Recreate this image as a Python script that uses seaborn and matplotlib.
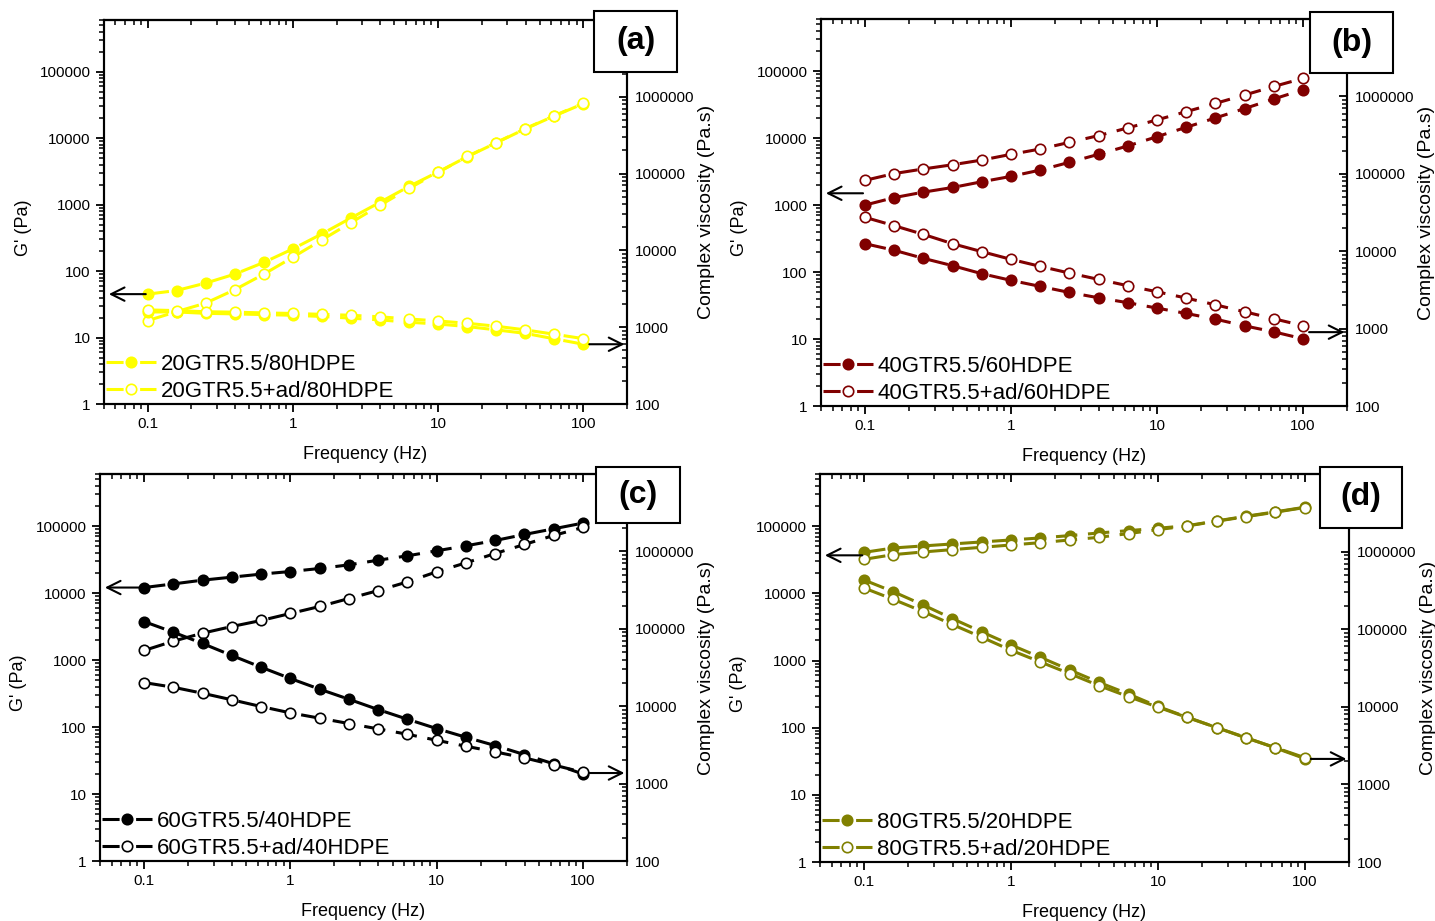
import numpy as np
import pandas as pd
import seaborn as sns
import matplotlib.pyplot as plt
from matplotlib.lines import Line2D
from matplotlib.patches import Rectangle
from matplotlib.ticker import FixedLocator, LogLocator, NullFormatter, FuncFormatter

sns.set_theme(style='ticks', rc={'text.color': 'black', 'axes.labelcolor': 'black',
                                 'xtick.color': 'black', 'ytick.color': 'black',
                                 'axes.edgecolor': 'black'})
plt.rcParams['font.family'] = ['Liberation Sans', 'DejaVu Sans']

# frequency sweep (Hz), 5 points per decade
freq = [0.1, 0.158, 0.251, 0.398, 0.631, 1.0, 1.585, 2.512, 3.981, 6.31,
        10.0, 15.85, 25.12, 39.81, 63.1, 100.0]

# (a) 20GTR / 80HDPE
a_labels = ['20GTR5.5/80HDPE', '20GTR5.5+ad/80HDPE']
a_g_filled = [45, 51, 66, 90, 135, 216, 363, 630, 1085, 1880, 3100, 5250, 8500, 13800, 21600, 33000]
a_g_open = [18, 24.5, 33, 52.5, 90, 162, 295, 537, 977, 1760, 3050, 5300, 8600, 13900, 21800, 33500]
a_eta_filled = [1580, 1580, 1515, 1490, 1460, 1430, 1380, 1310, 1245, 1160, 1100, 1020, 923, 832, 706, 600]
a_eta_open = [1680, 1645, 1590, 1570, 1535, 1510, 1470, 1430, 1365, 1280, 1205, 1125, 1030, 923, 810, 710]

# (b) 40GTR / 60HDPE
b_labels = ['40GTR5.5/60HDPE', '40GTR5.5+ad/60HDPE']
b_g_filled = [1000, 1290, 1560, 1830, 2230, 2680, 3330, 4350, 5730, 7640, 10500, 14500, 20000, 27600, 38400, 52800]
b_g_open = [2340, 2950, 3460, 4000, 4700, 5720, 6870, 8640, 10900, 14200, 18700, 24800, 33000, 44000, 59000, 78000]
b_eta_filled = [12500, 10300, 8090, 6500, 5120, 4200, 3510, 2930, 2500, 2160, 1840, 1570, 1325, 1085, 908, 738]
b_eta_open = [27400, 21400, 16500, 12500, 9870, 7850, 6370, 5220, 4320, 3580, 2990, 2480, 2030, 1650, 1340, 1090]

# (c) 60GTR / 40HDPE
c_labels = ['60GTR5.5/40HDPE', '60GTR5.5+ad/40HDPE']
c_g_filled = [12100, 13700, 15600, 17300, 19200, 21000, 23300, 26400, 31000, 36000, 42800, 50800, 61000, 75000, 91200, 111000]
c_g_open = [1390, 1910, 2520, 3170, 3900, 4960, 6310, 8300, 10900, 14700, 20800, 28300, 39000, 53200, 72600, 95500]
c_eta_filled = [124000, 90600, 64600, 45200, 31900, 22800, 16600, 12300, 9050, 6790, 5140, 3970, 3100, 2370, 1800, 1330]
c_eta_open = [20200, 17600, 14700, 12100, 9900, 8200, 7000, 5970, 5090, 4340, 3630, 3040, 2570, 2150, 1740, 1400]

# (d) 80GTR / 20HDPE
d_labels = ['80GTR5.5/20HDPE', '80GTR5.5+ad/20HDPE']
d_g_filled = [40900, 47500, 50900, 54500, 58400, 62500, 67000, 72600, 79500, 86100, 93300, 102000, 120000, 141000, 164000, 192000]
d_g_open = [32200, 37800, 41400, 44900, 48600, 52600, 57000, 62500, 68500, 77800, 89200, 101000, 119000, 139000, 162000, 190000]
d_eta_filled = [430000, 304000, 206000, 137000, 92400, 62700, 43400, 29800, 20600, 14600, 10100, 7350, 5400, 4010, 2950, 2150]
d_eta_open = [339000, 242000, 169000, 115000, 78800, 53500, 37800, 26700, 18700, 13500, 9900, 7280, 5400, 3970, 2980, 2210]

# arrow heights (left arrow -> G', right arrow -> viscosity)
arrow_g = [45, 1500, 12100, 36900]
arrow_eta = [600, 900, 1370, 2130]

tags = ['(a)', '(b)', '(c)', '(d)']
colors = ['#ffff00', '#800000', '#000000', '#808000']

panels = [
    (a_labels, a_g_filled, a_g_open, a_eta_filled, a_eta_open),
    (b_labels, b_g_filled, b_g_open, b_eta_filled, b_eta_open),
    (c_labels, c_g_filled, c_g_open, c_eta_filled, c_eta_open),
    (d_labels, d_g_filled, d_g_open, d_eta_filled, d_eta_open),
]

W, H = 1435, 921
fig = plt.figure(figsize=(W / 100, H / 100), dpi=100)


def px_rect(l, t, r, b):
    return [l / W, 1 - b / H, (r - l) / W, (b - t) / H]


ax_boxes = [(104, 20, 627, 404), (821, 19, 1347, 406), (100, 474, 627, 861), (820, 474, 1349, 862)]
tag_boxes = [(594, 11, 677, 72), (1310, 12, 1393, 73), (596, 467, 680, 523), (1320, 467, 1402, 528)]

dash = (0, (7, 3.5))
legend_dash = (0, (5.6, 5.4))
int_fmt = FuncFormatter(lambda v, p: f'{v:.0f}')
x_fmt = FuncFormatter(lambda v, p: f'{v:g}')
minor_loc = lambda: LogLocator(base=10, subs=np.arange(2, 10), numticks=100)

for i, (labels, g_f, g_o, eta_f, eta_o) in enumerate(panels):
    col = colors[i]
    ax = fig.add_axes(px_rect(*ax_boxes[i]))
    ax2 = ax.twinx()

    common = dict(x=freq, color=col, marker='o', markersize=7.5, linewidth=2.2,
                  linestyle=dash, markeredgecolor=col, markeredgewidth=1.2, legend=False)
    sns.lineplot(y=g_f, ax=ax, markerfacecolor=col, **common)
    sns.lineplot(y=g_o, ax=ax, markerfacecolor='white', **common)
    sns.lineplot(y=eta_f, ax=ax2, markerfacecolor=col, **common)
    sns.lineplot(y=eta_o, ax=ax2, markerfacecolor='white', **common)

    for a in (ax, ax2):
        a.set_xscale('log')
        a.set_yscale('log')
        a.set_xlim(0.05, 200)
        for s in a.spines.values():
            s.set_linewidth(1.5)
    ax.set_ylim(1, 6e5)
    ax2.set_ylim(100, 1e7)

    ax.xaxis.set_major_locator(FixedLocator([0.1, 1, 10, 100]))
    ax.xaxis.set_minor_locator(minor_loc())
    ax.xaxis.set_major_formatter(x_fmt)
    ax.xaxis.set_minor_formatter(NullFormatter())
    ax.yaxis.set_major_locator(FixedLocator([1, 10, 100, 1000, 10000, 100000]))
    ax.yaxis.set_minor_locator(minor_loc())
    ax.yaxis.set_major_formatter(int_fmt)
    ax.yaxis.set_minor_formatter(NullFormatter())
    ax2.yaxis.set_major_locator(FixedLocator([100, 1000, 10000, 100000, 1000000]))
    ax2.yaxis.set_minor_locator(minor_loc())
    ax2.yaxis.set_major_formatter(int_fmt)
    ax2.yaxis.set_minor_formatter(NullFormatter())

    ax.tick_params(axis='both', which='major', direction='out', length=6, width=1.3,
                   labelsize=11, right=False)
    ax.tick_params(axis='both', which='minor', direction='out', length=3.5, width=1.1, right=False)
    ax2.tick_params(axis='y', which='major', direction='in', length=6, width=1.3,
                    labelsize=11, pad=6)
    ax2.tick_params(axis='y', which='minor', direction='in', length=3.5, width=1.1)

    top = ax.secondary_xaxis('top')
    top.xaxis.set_major_locator(FixedLocator([0.1, 1, 10, 100]))
    top.xaxis.set_minor_locator(minor_loc())
    top.xaxis.set_major_formatter(NullFormatter())
    top.xaxis.set_minor_formatter(NullFormatter())
    top.tick_params(which='major', direction='in', length=6, width=1.3)
    top.tick_params(which='minor', direction='in', length=3.5, width=1.1)
    top.spines['top'].set_linewidth(1.5)

    ax.set_xlabel('Frequency (Hz)', fontsize=13, labelpad=11)
    ax.set_ylabel("G' (Pa)", fontsize=13)
    ax.yaxis.set_label_coords(-0.138, 0.46)
    ax2.set_ylabel('Complex viscosity (Pa.s)', fontsize=14, labelpad=2)

    # legend keys: dashed line with the marker sitting in the gap
    handles = [Line2D([], [], color=col, lw=2.2, linestyle=legend_dash, marker='o',
                      markersize=7.5, markeredgecolor=col, markeredgewidth=1.2,
                      markerfacecolor=fc) for fc in (col, 'white')]
    ax.legend(handles=handles, labels=labels, loc='lower left',
              bbox_to_anchor=(0, 0), frameon=False, fontsize=16,
              handlelength=2.25, handletextpad=0.2, labelspacing=0.25,
              borderaxespad=0.0, borderpad=0.1)

    arrow_kw = dict(arrowstyle='->', color='black', lw=1.5, mutation_scale=24,
                    shrinkA=0, shrinkB=0)
    ax.annotate('', xy=(0.054, arrow_g[i]), xytext=(0.097, arrow_g[i]),
                arrowprops=arrow_kw, annotation_clip=False)
    ax2.annotate('', xy=(192, arrow_eta[i]), xytext=(110, arrow_eta[i]),
                 arrowprops=arrow_kw, annotation_clip=False)

    l, t, r, b = tag_boxes[i]
    fig.add_artist(Rectangle((l / W, 1 - b / H), (r - l) / W, (b - t) / H,
                             transform=fig.transFigure, facecolor='white',
                             edgecolor='black', linewidth=1.5, zorder=10))
    fig.text((l + r) / 2 / W, 1 - (t + b) / 2 / H, tags[i], ha='center', va='center',
             fontsize=23, fontweight='bold', zorder=11)

fig.savefig('out.png', dpi=100)
